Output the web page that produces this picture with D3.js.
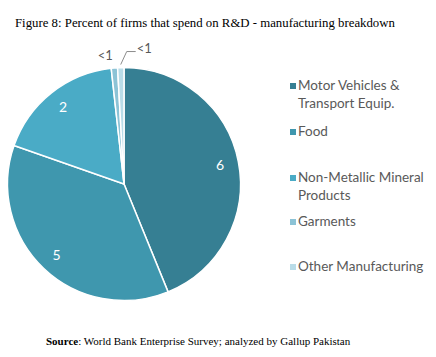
<!DOCTYPE html>
<html><head><meta charset="utf-8">
<script src="https://cdn.jsdelivr.net/npm/d3@7"></script>
<style>body{margin:0;background:#fff;}svg{display:block;}</style>
</head><body>
<svg id="c" width="436" height="357"></svg>
<script>
const categories = ["Motor Vehicles & Transport Equip.", "Food", "Non-Metallic Mineral Products", "Garments", "Other Manufacturing"];
const values = [6, 5, 2.45, 0.12, 0.12];
const colors = ["#367f93", "#3f97ae", "#4aabc6", "#8cc3d6", "#b9dce8"];
const legendLines = [["Motor Vehicles &", "Transport Equip."], ["Food"], ["Non-Metallic Mineral", "Products"], ["Garments"], ["Other Manufacturing"]];
const legendY = [90, 136, 182, 226, 271];

const svg = d3.select("#c");
const cx = 124, cy = 184, R = 116.5;

svg.append("text").attr("x", 15).attr("y", 27)
  .attr("font-family", "Liberation Serif, serif").attr("font-size", 12.8).attr("fill", "#000")
  .text("Figure 8: Percent of firms that spend on R&D - manufacturing breakdown");

const pie = d3.pie().sort(null).value(d => d)(values);
const arc = d3.arc().innerRadius(0).outerRadius(R);
const labelArc = d3.arc().innerRadius(98).outerRadius(98);
const g = svg.append("g").attr("transform", `translate(${cx},${cy})`);
g.selectAll("path").data(pie).join("path")
  .attr("d", arc).attr("fill", (d, i) => colors[i])
  .attr("stroke", "#fff").attr("stroke-width", 1.5).attr("stroke-linejoin", "round");

const fmt = v => v < 1 ? "<1" : String(Math.round(v));
pie.forEach((d, i) => {
  if (values[i] >= 1) {
    const [x, y] = labelArc.centroid(d);
    g.append("text").attr("x", x).attr("y", y).attr("dy", "0.35em")
      .attr("text-anchor", "middle").attr("font-family", "Lato, sans-serif")
      .attr("font-size", 14).attr("fill", "#fff").text(fmt(values[i]));
  }
});
// small slice labels
const small = pie.filter((d, i) => values[i] < 1);
{
  const d = small[0];
  const a = (d.startAngle + d.endAngle) / 2;
  const r = R + 14;
  g.append("text").attr("x", Math.sin(a) * r - 8).attr("y", -Math.cos(a) * r + 6)
    .attr("text-anchor", "middle").attr("font-family", "Lato, sans-serif")
    .attr("font-size", 13).attr("fill", "#595959").text(fmt(values[3]));
}
{
  const d = small[1];
  const a = (d.startAngle + d.endAngle) / 2;
  const x0 = Math.sin(a) * (R + 3), y0 = -Math.cos(a) * (R + 3);
  const x1 = x0 + 6, y1 = y0 - 13;
  g.append("path").attr("d", `M${x0},${y0}L${x1},${y1}L${x1 + 9},${y1}`)
    .attr("fill", "none").attr("stroke", "#8c8c8c").attr("stroke-width", 1);
  g.append("text").attr("x", x1 + 10).attr("y", y1 + 1).attr("text-anchor", "start")
    .attr("font-family", "Lato, sans-serif").attr("font-size", 13).attr("fill", "#595959")
    .text(fmt(values[4]));
}

const leg = svg.append("g");
categories.forEach((c, i) => {
  leg.append("rect").attr("x", 290).attr("y", legendY[i] - 7).attr("width", 6).attr("height", 6)
    .attr("fill", colors[i]);
  legendLines[i].forEach((t, j) => {
    leg.append("text").attr("x", 298).attr("y", legendY[i] + j * 18)
      .attr("font-family", "Lato, sans-serif").attr("font-size", 13.5).attr("fill", "#595959").text(t);
  });
});

const src = svg.append("text").attr("x", 46).attr("y", 345)
  .attr("font-family", "Liberation Serif, serif").attr("font-size", 11).attr("fill", "#000");
src.append("tspan").attr("font-weight", "bold").text("Source");
src.append("tspan").text(": World Bank Enterprise Survey; analyzed by Gallup Pakistan");
</script>
</body></html>
